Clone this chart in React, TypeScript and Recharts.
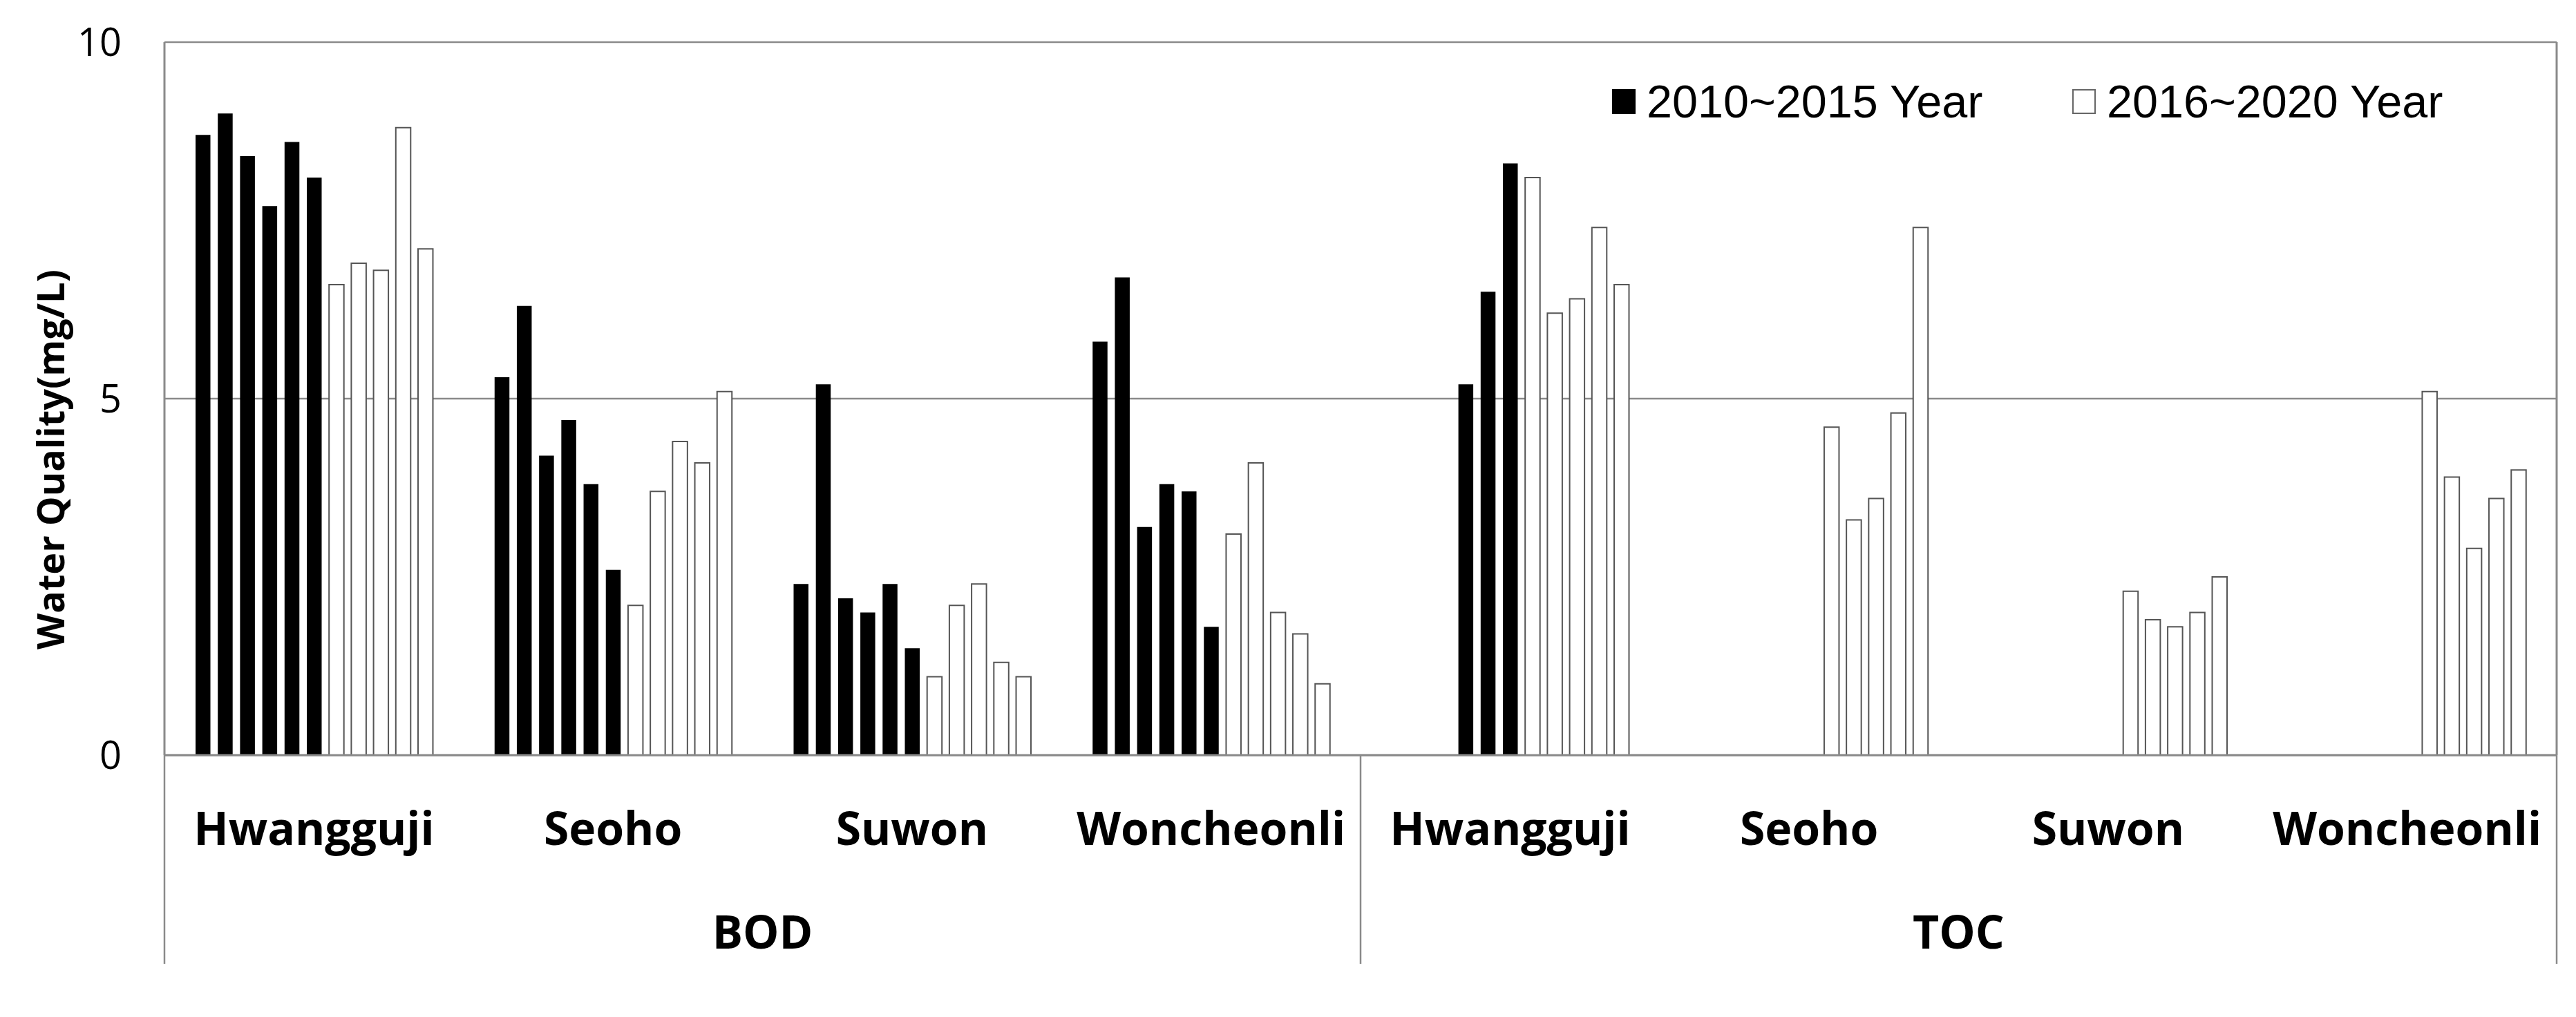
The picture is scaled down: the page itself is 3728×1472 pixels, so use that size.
import React from 'react';
import { BarChart, Bar, XAxis, YAxis, CartesianGrid, Legend } from 'recharts';

const parameters = ['BOD', 'TOC'];
const sites = ['Hwangguji', 'Seoho', 'Suwon', 'Woncheonli'];
const years = [2010, 2011, 2012, 2013, 2014, 2015, 2016, 2017, 2018, 2019, 2020];
const lastEarlyYear = 2015;
const periodLabels = ['2010~2015 Year', '2016~2020 Year'];
const yTicks = [0, 5, 10];
const yTitle = 'Water Quality(mg/L)';

const bodHwangguji = [8.7, 9.0, 8.4, 7.7, 8.6, 8.1, 6.6, 6.9, 6.8, 8.8, 7.1];
const bodSeoho = [5.3, 6.3, 4.2, 4.7, 3.8, 2.6, 2.1, 3.7, 4.4, 4.1, 5.1];
const bodSuwon = [2.4, 5.2, 2.2, 2.0, 2.4, 1.5, 1.1, 2.1, 2.4, 1.3, 1.1];
const bodWoncheonli = [5.8, 6.7, 3.2, 3.8, 3.7, 1.8, 3.1, 4.1, 2.0, 1.7, 1.0];
const tocHwangguji = [null, null, null, 5.2, 6.5, 8.3, 8.1, 6.2, 6.4, 7.4, 6.6];
const tocSeoho = [null, null, null, null, null, null, 4.6, 3.3, 3.6, 4.8, 7.4];
const tocSuwon = [null, null, null, null, null, null, 2.3, 1.9, 1.8, 2.0, 2.5];
const tocWoncheonli = [null, null, null, null, null, null, 5.1, 3.9, 2.9, 3.6, 4.0];

const valueRows: (number | null)[][][] = [
  [bodHwangguji, bodSeoho, bodSuwon, bodWoncheonli],
  [tocHwangguji, tocSeoho, tocSuwon, tocWoncheonli],
];

const data: any[] = [];
parameters.forEach((p, pi) => {
  sites.forEach((s, si) => {
    const row: any = { site: s, group: p };
    years.forEach((yr, yi) => {
      row['y' + yr] = valueRows[pi][si][yi];
    });
    data.push(row);
  });
});

const GRAY = '#8a8a8a';
const W = 3728;
const H = 1472;

const SiteTick = (props: any) => {
  const { x, y, payload } = props;
  return (
    <text x={x} y={y + 130} textAnchor="middle" fontFamily="Open Sans" fontWeight={700} fontSize={66} fill="#000">
      {payload.value}
    </text>
  );
};

const GroupTick = (props: any) => {
  const { x, y, payload, index } = props;
  const half = payload && payload.offset ? payload.offset : (3700 - 238) / 4;
  return (
    <g>
      {index === 0 && (
        <line x1={x - half} x2={x - half} y1={y - 200} y2={y + 102} stroke={GRAY} strokeWidth={2.5} />
      )}
      <line x1={x + half} x2={x + half} y1={y - 200} y2={y + 102} stroke={GRAY} strokeWidth={2.5} />
      <text x={x} y={y + 80} textAnchor="middle" fontFamily="Open Sans" fontWeight={700} fontSize={66} fill="#000">
        {payload.value}
      </text>
    </g>
  );
};

const YTitle = (props: any) => {
  const { viewBox } = props;
  const cx = viewBox.x + 72;
  const cy = viewBox.y + viewBox.height / 2 + 88;
  return (
    <text
      x={cx}
      y={cy}
      transform={`rotate(-90 ${cx} ${cy})`}
      textAnchor="middle"
      dominantBaseline="central"
      fontFamily="Open Sans"
      fontWeight={700}
      fontSize={54}
      fill="#000"
    >
      {yTitle}
    </text>
  );
};

const LegendContent = () => {
  const items = [
    { label: periodLabels[0], fill: '#000', stroke: '#000', left: 0 },
    { label: periodLabels[1], fill: '#fff', stroke: '#666', left: 666 },
  ];
  return (
    <div style={{ position: 'relative', height: 66 }}>
      {items.map((it) => (
        <div
          key={it.label}
          style={{
            position: 'absolute',
            left: it.left,
            top: 0,
            display: 'flex',
            alignItems: 'center',
            height: 66,
            whiteSpace: 'nowrap',
          }}
        >
          <div
            style={{
              width: 34,
              height: 36,
              background: it.fill,
              border: `2px solid ${it.stroke}`,
              boxSizing: 'border-box',
              marginRight: 16,
            }}
          />
          <span style={{ fontFamily: '"Liberation Sans", Arial', fontSize: 66.5, lineHeight: '66px', color: '#000' }}>
            {it.label}
          </span>
        </div>
      ))}
    </div>
  );
};

export default function App() {
  return (
    <div style={{ position: 'absolute', left: 0, top: 0, width: W, height: H, background: '#fff' }}>
      <BarChart
        width={W}
        height={H}
        data={data}
        margin={{ top: 61, right: 0, bottom: 77, left: 0 }}
        barSize={21.5}
        barGap={10.7}
      >
        <CartesianGrid yAxisId="left" xAxisId="a_site" vertical={false} stroke={GRAY} strokeWidth={2.5} />
        <XAxis
          xAxisId="a_site"
          dataKey="site"
          height={200}
          axisLine={{ stroke: GRAY, strokeWidth: 3 }}
          tickLine={false}
          tickSize={0}
          tickMargin={0}
          interval={0}
          tick={<SiteTick />}
        />
        <XAxis
          xAxisId="b_group"
          dataKey="group"
          allowDuplicatedCategory={false}
          height={102}
          axisLine={false}
          tickLine={false}
          tickSize={0}
          tickMargin={0}
          interval={0}
          tick={<GroupTick />}
        />
        <YAxis
          yAxisId="left"
          domain={[0, 10]}
          ticks={yTicks}
          width={238}
          axisLine={{ stroke: GRAY, strokeWidth: 3 }}
          tickLine={false}
          tickSize={0}
          tickMargin={62}
          tick={{ fontFamily: 'Open Sans', fontSize: 56, fill: '#000' }}
          label={<YTitle />}
        />
        <YAxis
          yAxisId="right"
          orientation="right"
          domain={[0, 10]}
          width={28}
          axisLine={{ stroke: GRAY, strokeWidth: 3 }}
          tick={false}
          tickLine={false}
        />
        <Legend
          verticalAlign="middle"
          align="center"
          layout="horizontal"
          wrapperStyle={{ left: 2333, top: 114, width: 1300 }}
          content={<LegendContent />}
        />
        {years.map((yr) => (
          <Bar
            key={yr}
            xAxisId="a_site"
            yAxisId="left"
            dataKey={'y' + yr}
            fill={yr <= lastEarlyYear ? '#000' : '#fff'}
            stroke={yr <= lastEarlyYear ? '#000' : '#555'}
            strokeWidth={yr <= lastEarlyYear ? 0 : 2}
            isAnimationActive={false}
          />
        ))}
      </BarChart>
    </div>
  );
}
